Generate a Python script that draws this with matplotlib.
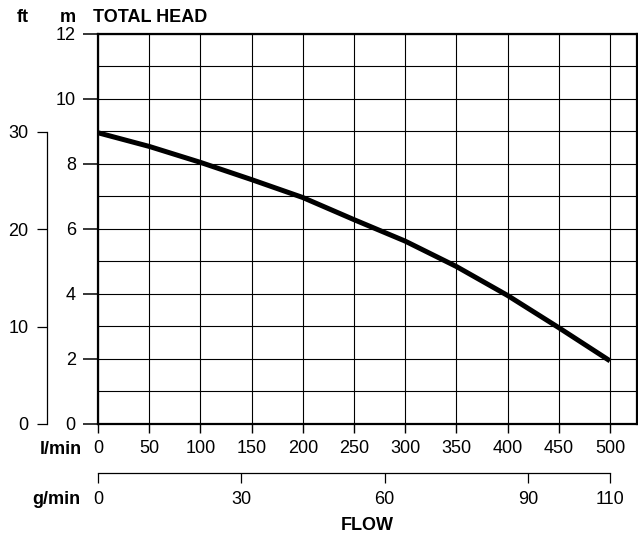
import matplotlib
matplotlib.use("Agg")
import matplotlib.pyplot as plt
import numpy as np

plt.rcParams['font.family'] = ['Liberation Sans', 'DejaVu Sans']

# Data
flow_lpm = [0, 50, 100, 150, 200, 250, 300, 350, 400, 450, 500]
head_m = [8.95, 8.53, 8.04, 7.51, 6.96, 6.28, 5.62, 4.84, 3.95, 2.96, 1.94]

lpm_ticks = [0, 50, 100, 150, 200, 250, 300, 350, 400, 450, 500]
m_ticks = [0, 2, 4, 6, 8, 10, 12]
ft_ticks = [0, 10, 20, 30]
gpm_ticks = [0, 30, 60, 90, 110]
gpm_tick_lpm = [0, 140, 280, 420, 500]
FT_PER_M = 3.34

W, H = 638, 536
fig = plt.figure(figsize=(W / 100, H / 100), dpi=100)
L, R, T, B = 98, 637, 33.5, 424
pos = [L / W, (H - B) / H, (R - L) / W, (B - T) / H]
XMAX = 526.4
FS = 13

ax = fig.add_axes(pos)
ax.set_xlim(0, XMAX)
ax.set_ylim(0, 12)
for s in ax.spines.values():
    s.set_linewidth(1.6)
    s.set_zorder(5)
ax.set_yticks(m_ticks)
ax.set_yticks(range(1, 12, 2), minor=True)
ax.set_xticks(lpm_ticks)
ax.set_yticklabels([str(v) for v in m_ticks], fontsize=FS)
ax.set_xticklabels([str(v) for v in lpm_ticks], fontsize=FS)
ax.tick_params(axis='y', which='major', length=11, width=1.1, pad=5, direction='out')
ax.tick_params(axis='y', which='minor', length=0)
ax.tick_params(axis='x', which='major', length=6.5, width=1.0, pad=5, direction='out')
ax.grid(True, which='both', color='black', linewidth=0.8)
ax.set_axisbelow(True)
ax.plot(flow_lpm, head_m, color='black', linewidth=3.6, solid_capstyle='butt', zorder=4)

# ft axis
axf = fig.add_axes(pos, frameon=True)
axf.patch.set_visible(False)
axf.set_ylim(0, 12 * FT_PER_M)
axf.set_xlim(0, 1)
for k in ['top', 'right', 'bottom']:
    axf.spines[k].set_visible(False)
axf.spines['left'].set_position(('outward', 51.3 * 0.72))
axf.spines['left'].set_bounds(0, 30)
axf.spines['left'].set_linewidth(0.9)
axf.set_xticks([])
axf.set_yticks(ft_ticks)
axf.set_yticklabels([str(v) for v in ft_ticks], fontsize=FS)
axf.tick_params(axis='y', length=7, width=0.9, pad=6, direction='out')

# g/min axis
axg = fig.add_axes(pos, frameon=True)
axg.patch.set_visible(False)
axg.set_xlim(0, XMAX)
axg.set_ylim(0, 1)
for k in ['top', 'right', 'left']:
    axg.spines[k].set_visible(False)
axg.spines['bottom'].set_position(('outward', 49.3 * 0.72))
axg.spines['bottom'].set_bounds(0, 500)
axg.spines['bottom'].set_linewidth(0.9)
axg.set_yticks([])
axg.set_xticks(gpm_tick_lpm)
axg.set_xticklabels([str(v) for v in gpm_ticks], fontsize=FS)
axg.tick_params(axis='x', length=7, width=0.9, pad=6, direction='out')

# labels
def ftxt(x, y, s, ha='center'):
    fig.text(x / W, 1 - y / H, s, ha=ha, va='center', fontsize=FS, fontweight='bold')

ftxt(23, 18, 'ft')
ftxt(76, 18, 'm', ha='right')
ftxt(93, 18, 'TOTAL HEAD', ha='left')
ftxt(82, 449, 'l/min', ha='right')
ftxt(80, 499, 'g/min', ha='right')
ftxt(367, 525, 'FLOW')

fig.savefig('out.png', dpi=100)
